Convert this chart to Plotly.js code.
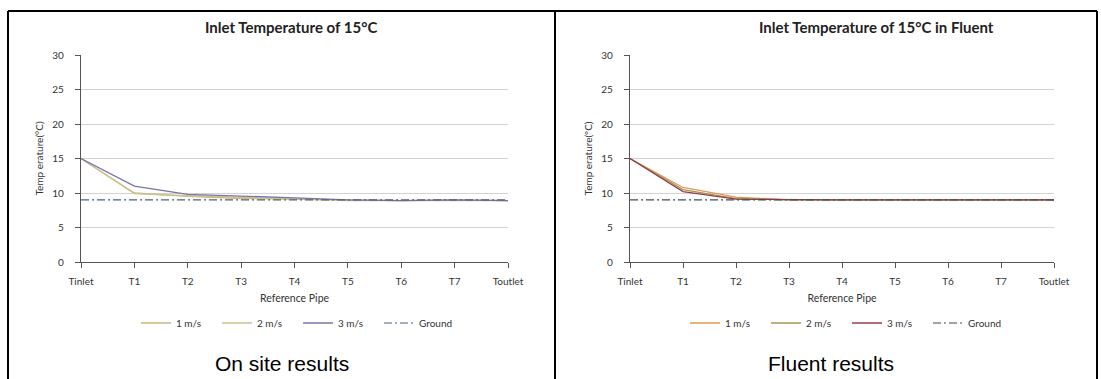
<!DOCTYPE html>
<html>
<head>
<meta charset="utf-8">
<script src="https://cdn.plot.ly/plotly-3.0.1.min.js"></script>
<style>html,body{margin:0;padding:0;background:#fff;}#chart{width:1101px;height:379px;}</style>
</head>
<body>
<div id="chart"></div>
<script>
const categories = ["Tinlet","T1","T2","T3","T4","T5","T6","T7","Toutlet"];
const yTicks = [0,5,10,15,20,25,30];

// On site results
const site1 = [15, 10.0, 9.5, 9.2, 9.1, 9.0, 8.9, 9.0, 8.9];
const site2 = [15, 9.9, 9.6, 9.3, 9.1, 8.9, 8.9, 9.0, 8.9];
const site3 = [15, 11.0, 9.8, 9.6, 9.3, 9.0, 8.9, 9.0, 8.9];
const siteGround = [9, 9, 9, 9, 9, 9, 9, 9, 9];

// Fluent results
const fluent1 = [15, 10.8, 9.4, 9.0, 9.0, 9.0, 9.0, 9.0, 9.0];
const fluent2 = [15, 10.5, 9.2, 9.0, 9.0, 9.0, 9.0, 9.0, 9.0];
const fluent3 = [15, 10.2, 9.1, 9.0, 9.0, 9.0, 9.0, 9.0, 9.0];
const fluentGround = [9, 9, 9, 9, 9, 9, 9, 9, 9];

const seriesNames = ["1 m/s", "2 m/s", "3 m/s", "Ground"];
const titles = ["Inlet Temperature of 15°C", "Inlet Temperature of 15°C in Fluent"];
const captions = ["On site results", "Fluent results"];

const W = 1101, H = 379;
const px = v => v / W;
const py = v => 1 - v / H;

const siteColors = ["#d2b57f", "#c9c48e", "#7c72aa", "#4d6472"];
const fluentColors = ["#e39a52", "#9c9a5a", "#9a3a4c", "#3f4f5c"];

function mk(y, name, color, xa, ya, lg, dash) {
  return {x: categories, y: y, name: name, type: "scatter", mode: "lines",
    xaxis: xa, yaxis: ya, legend: lg,
    line: {color: color, width: dash ? 1.2 : 1.3, dash: dash || "solid"},
    hoverinfo: "skip"};
}

const data = [
  mk(site1, seriesNames[0], siteColors[0], "x", "y", "legend"),
  mk(site2, seriesNames[1], siteColors[1], "x", "y", "legend"),
  mk(site3, seriesNames[2], siteColors[2], "x", "y", "legend"),
  mk(siteGround, seriesNames[3], siteColors[3], "x", "y", "legend", "8px,3px,2px,3px"),
  mk(fluent1, seriesNames[0], fluentColors[0], "x2", "y2", "legend2"),
  mk(fluent2, seriesNames[1], fluentColors[1], "x2", "y2", "legend2"),
  mk(fluent3, seriesNames[2], fluentColors[2], "x2", "y2", "legend2"),
  mk(fluentGround, seriesNames[3], fluentColors[3], "x2", "y2", "legend2", "8px,3px,2px,3px")
];

const FONT = "Lato, 'Open Sans', sans-serif";
const tickFont = {family: FONT, size: 10, color: "#333"};

function xax(domain, anchor) {
  return {domain: domain, anchor: anchor, type: "category", range: [0, 8],
    showline: true, linecolor: "#555", linewidth: 1.2,
    ticks: "outside", ticklen: 5, tickcolor: "#555", tickwidth: 1,
    ticklabelstandoff: 5,
    showgrid: false, zeroline: false, tickfont: tickFont, fixedrange: true,
    title: {text: "Reference Pipe", font: {family: FONT, size: 10.5, color: "#333"}, standoff: 8}};
}
function yax(anchor, label) {
  return {domain: [py(262), py(55)], anchor: anchor, range: [0, 30],
    tickvals: yTicks, showline: true, linecolor: "#555", linewidth: 1.2,
    ticks: "outside", ticklen: 5, tickcolor: "#555",
    ticklabelstandoff: 9,
    showgrid: true, gridcolor: "#d3d3d3", gridwidth: 1, zeroline: false,
    tickfont: tickFont, fixedrange: true,
    title: {text: label, font: {family: FONT, size: 10, color: "#333"}, standoff: 6}};
}

const legendBase = {orientation: "h", yanchor: "middle", y: py(323), xanchor: "center",
  font: {family: FONT, size: 10, color: "#333"},
  bgcolor: "rgba(0,0,0,0)", itemwidth: 30, tracegroupgap: 0,
  entrywidth: 36, entrywidthmode: "pixels"};

const borderLine = {color: "#000", width: 2};

const layout = {
  width: W, height: H,
  margin: {l: 0, r: 0, t: 0, b: 0},
  paper_bgcolor: "#fff", plot_bgcolor: "#fff",
  showlegend: true,
  xaxis: xax([px(81), px(508)], "y"),
  yaxis: yax("x", "Temp erature(°C)"),
  xaxis2: xax([px(630), px(1054)], "y2"),
  yaxis2: yax("x2", "Temp erature(ºC)"),
  legend: Object.assign({}, legendBase, {x: px(298)}),
  legend2: Object.assign({}, legendBase, {x: px(847)}),
  annotations: [
    {text: "<b>" + titles[0] + "</b>", xref: "paper", yref: "paper", x: px(291), y: py(27), showarrow: false,
      xanchor: "center", yanchor: "middle", font: {family: FONT, size: 15, color: "#222"}},
    {text: "<b>" + titles[1] + "</b>", xref: "paper", yref: "paper", x: px(876), y: py(27), showarrow: false,
      xanchor: "center", yanchor: "middle", font: {family: FONT, size: 15, color: "#222"}},
    {text: captions[0], xref: "paper", yref: "paper", x: px(282), y: py(363), showarrow: false,
      xanchor: "center", yanchor: "middle", font: {family: "'Liberation Sans', Arial, sans-serif", size: 21, color: "#000"}},
    {text: captions[1], xref: "paper", yref: "paper", x: px(831), y: py(363), showarrow: false,
      xanchor: "center", yanchor: "middle", font: {family: "'Liberation Sans', Arial, sans-serif", size: 21, color: "#000"}}
  ],
  shapes: [
    {type: "line", xref: "paper", yref: "paper", x0: px(8), x1: px(1097), y0: py(11), y1: py(11), line: borderLine},
    {type: "line", xref: "paper", yref: "paper", x0: px(8), x1: px(8), y0: py(11), y1: 0, line: borderLine},
    {type: "line", xref: "paper", yref: "paper", x0: px(555), x1: px(555), y0: py(11), y1: 0, line: borderLine},
    {type: "line", xref: "paper", yref: "paper", x0: px(1097), x1: px(1097), y0: py(11), y1: 0, line: borderLine}
  ]
};

Plotly.newPlot("chart", data, layout, {displayModeBar: false, staticPlot: true});
</script>
</body>
</html>
